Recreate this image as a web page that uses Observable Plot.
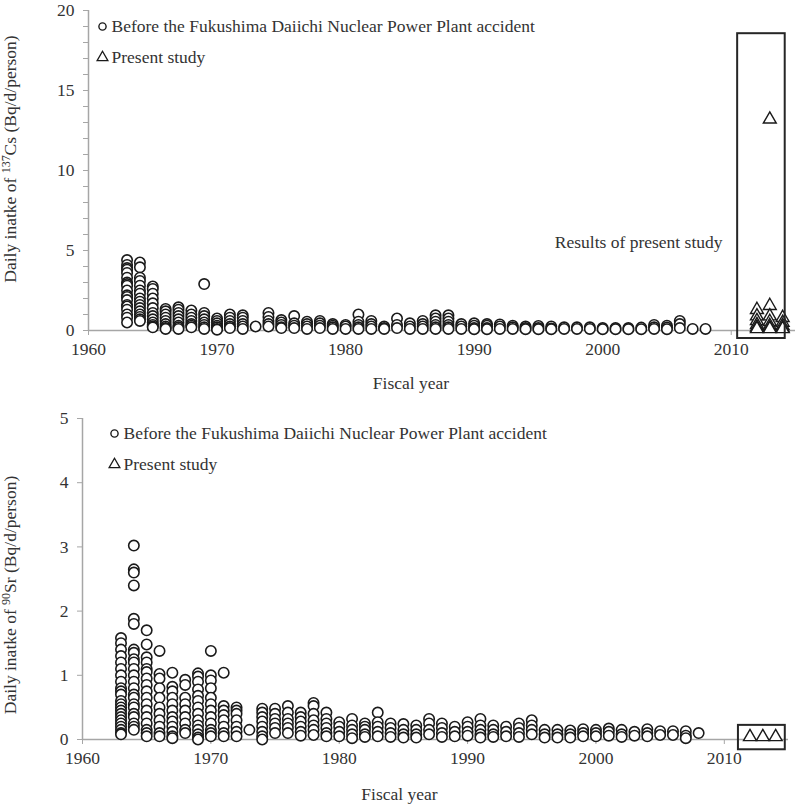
<!DOCTYPE html>
<html>
<head>
<meta charset="utf-8">
<script src="https://cdn.jsdelivr.net/npm/d3@7"></script>
<script src="https://cdn.jsdelivr.net/npm/@observablehq/plot@0.6"></script>
<style>
  body { margin: 0; background: #fff; }
  #chart svg { display: block; }
</style>
</head>
<body>
<div id="chart"></div>
<script>
// ---------- Data ----------
const years = [1963,1964,1965,1966,1967,1968,1969,1970,1971,1972,1973,1974,1975,1976,1977,1978,1979,1980,1981,1982,1983,1984,1985,1986,1987,1988,1989,1990,1991,1992,1993,1994,1995,1996,1997,1998,1999,2000,2001,2002,2003,2004,2005,2006,2007,2008];

// 137Cs daily intake before the accident (Bq/d/person), one list per fiscal year
const csValues = [
  [4.4,4.1,3.9,3.8,3.6,3.3,3.0,2.9,2.8,2.5,2.2,2.1,1.9,1.6,1.5,1.3,1.0,0.8,0.5],
  [4.25,3.95,3.3,3.1,2.8,2.5,2.3,2.0,1.8,1.6,1.4,1.2,1.0,0.85,0.7,0.6],
  [2.75,2.6,2.3,2.0,1.7,1.4,1.1,0.9,0.7,0.5,0.35,0.25,0.2],
  [1.35,1.2,1.0,0.8,0.6,0.4,0.25,0.15,0.1],
  [1.45,1.3,1.1,0.9,0.7,0.5,0.3,0.2,0.1],
  [1.25,1.0,0.8,0.6,0.4,0.3,0.2],
  [2.9,1.1,0.9,0.7,0.5,0.35,0.2,0.1],
  [0.75,0.6,0.45,0.3,0.2,0.1,0.05],
  [1.0,0.8,0.6,0.4,0.25,0.15],
  [0.95,0.8,0.6,0.4,0.25,0.1],
  [0.25],
  [1.1,0.85,0.6,0.4,0.25],
  [0.65,0.5,0.35,0.2,0.15],
  [0.9,0.45,0.3,0.15],
  [0.55,0.4,0.25,0.1],
  [0.6,0.45,0.3,0.15],
  [0.4,0.3,0.2,0.1],
  [0.35,0.25,0.1],
  [1.0,0.55,0.35,0.2,0.1],
  [0.6,0.4,0.25,0.1],
  [0.25,0.15,0.1],
  [0.75,0.35,0.15],
  [0.45,0.25,0.1],
  [0.6,0.4,0.25,0.1],
  [0.95,0.75,0.55,0.35,0.2,0.1],
  [0.95,0.75,0.55,0.35,0.2,0.1],
  [0.4,0.25,0.1],
  [0.45,0.3,0.15,0.08],
  [0.4,0.3,0.15,0.08],
  [0.38,0.25,0.1],
  [0.3,0.2,0.1],
  [0.25,0.15,0.08],
  [0.28,0.15,0.08],
  [0.25,0.12,0.08],
  [0.2,0.1],
  [0.2,0.1],
  [0.2,0.1],
  [0.15,0.08],
  [0.15,0.08],
  [0.15,0.08],
  [0.18,0.08],
  [0.35,0.2,0.1],
  [0.3,0.18,0.08],
  [0.6,0.4,0.15],
  [0.1],
  [0.1]
];

// 90Sr daily intake before the accident (Bq/d/person), one list per fiscal year
const srValues = [
  [1.58,1.5,1.4,1.3,1.2,1.1,1.0,0.9,0.8,0.75,0.7,0.6,0.55,0.5,0.45,0.4,0.35,0.3,0.25,0.2,0.15,0.1,0.08],
  [3.02,2.65,2.6,2.4,1.88,1.8,1.4,1.35,1.25,1.2,1.1,1.0,0.9,0.8,0.7,0.65,0.55,0.5,0.4,0.35,0.25,0.2,0.15],
  [1.7,1.48,1.28,1.2,1.1,1.05,0.95,0.85,0.75,0.65,0.55,0.45,0.35,0.25,0.15,0.1,0.05],
  [1.38,1.02,0.95,0.8,0.65,0.5,0.4,0.3,0.2,0.1,0.05],
  [1.04,0.82,0.75,0.65,0.55,0.45,0.35,0.28,0.2,0.12,0.05,0.02],
  [0.93,0.85,0.65,0.55,0.45,0.35,0.25,0.15,0.1],
  [1.03,0.98,0.9,0.78,0.68,0.6,0.5,0.4,0.3,0.22,0.15,0.08,0.03,0.0],
  [1.38,1.0,0.92,0.8,0.65,0.55,0.45,0.35,0.25,0.15,0.1,0.05],
  [1.04,0.52,0.45,0.38,0.3,0.2,0.1,0.05],
  [0.5,0.45,0.4,0.3,0.2,0.12,0.05],
  [0.15],
  [0.48,0.42,0.35,0.28,0.2,0.12,0.05,0.0],
  [0.48,0.4,0.32,0.25,0.18,0.1],
  [0.52,0.42,0.32,0.25,0.18,0.1],
  [0.42,0.35,0.28,0.2,0.12,0.06],
  [0.57,0.52,0.4,0.3,0.22,0.15,0.07],
  [0.42,0.32,0.25,0.18,0.1,0.05],
  [0.27,0.2,0.12,0.05],
  [0.32,0.22,0.15,0.08,0.02],
  [0.25,0.2,0.15,0.08,0.04],
  [0.42,0.27,0.2,0.12,0.05],
  [0.25,0.18,0.1,0.04],
  [0.24,0.15,0.08,0.03],
  [0.22,0.15,0.08,0.03],
  [0.32,0.25,0.15,0.08],
  [0.25,0.18,0.1,0.04],
  [0.2,0.12,0.05],
  [0.27,0.2,0.12,0.06],
  [0.32,0.22,0.15,0.08,0.03],
  [0.22,0.15,0.08,0.04],
  [0.2,0.12,0.05],
  [0.25,0.18,0.1,0.04],
  [0.3,0.22,0.15,0.08],
  [0.15,0.08,0.03],
  [0.15,0.08,0.03],
  [0.14,0.08,0.03],
  [0.16,0.1,0.05],
  [0.15,0.1,0.05],
  [0.17,0.12,0.06],
  [0.15,0.08,0.04],
  [0.12,0.06],
  [0.16,0.1,0.05],
  [0.13,0.07],
  [0.13,0.07],
  [0.13,0.06,0.02],
  [0.1]
];

// Present study
const studyYears = [2012, 2013, 2014];
const csStudy = [
  [1.3,0.9,0.6,0.35,0.2,0.1],
  [13.2,1.55,0.9,0.55,0.3,0.15,0.1],
  [0.8,0.5,0.3,0.15,0.1]
];
const srStudy = [[0.04],[0.04],[0.04]];

// Boxes around the present-study results (data units)
const csBox = [{x1: 2010.5, x2: 2014.2, y1: -0.5, y2: 18.55}];
const srBox = [{x1: 2011.1, x2: 2014.75, y1: -0.16, y2: 0.22}];

// Labels
const legendBefore = "Before the Fukushima Daiichi Nuclear Power Plant accident";
const legendStudy = "Present study";
const xTitle = "Fiscal year";
const annotation = "Results of present study";
const xTicks = [1960, 1970, 1980, 1990, 2000, 2010];

// ---------- Helpers ----------
const flat = (ys, vals) => ys.flatMap((yr, i) => vals[i].map(v => ({year: yr, value: v})));
const csBefore = flat(years, csValues);
const srBefore = flat(years, srValues);
const csNow = flat(studyYears, csStudy);
const srNow = flat(studyYears, srStudy);

const FONT = "'Liberation Serif', 'Times New Roman', serif";
const FS = 17.5;
const AXIS = "#a6a6a6";
const TEXT = "#333333";
const INK = "#1a1a1a";

function panel(cfg) {
  const svg = Plot.plot({
    width: 795,
    height: cfg.height,
    marginLeft: cfg.ml,
    marginRight: cfg.mr,
    marginTop: cfg.mt,
    marginBottom: cfg.mb,
    style: {fontFamily: FONT, fontSize: FS + "px", color: TEXT, background: "white", overflow: "visible"},
    x: {domain: [1960, 2015], label: null},
    y: {domain: cfg.ydomain, label: null},
    marks: [
      Plot.ruleY([0], {stroke: AXIS, strokeWidth: 1.5}),
      Plot.ruleX([1960], {y1: cfg.ydomain[0], y2: cfg.ydomain[1], stroke: AXIS, strokeWidth: 1.5}),
      Plot.axisX({ticks: xTicks, tickFormat: d => String(d), tickSize: 5, tickPadding: 7, stroke: AXIS, fill: TEXT, label: null, fontSize: FS, fontFamily: FONT}),
      Plot.axisY({ticks: cfg.yticks, tickFormat: cfg.yfmt, tickSize: 5, tickPadding: 9, stroke: AXIS, fill: TEXT, label: null, fontSize: FS, fontFamily: FONT}),
      Plot.dot(cfg.before, {x: "year", y: "value", r: 5.2, symbol: "circle", fill: "white", stroke: INK, strokeWidth: 1.6}),
      Plot.dot(cfg.now, {x: "year", y: "value", r: 4.8, symbol: "triangle", fill: "white", stroke: INK, strokeWidth: 1.4}),
      Plot.rect(cfg.box, {x1: "x1", x2: "x2", y1: "y1", y2: "y2", fill: "none", stroke: "#262626", strokeWidth: 2}),
      // legend
      Plot.dot([legendBefore], {frameAnchor: "top-left", dx: cfg.lgx, dy: cfg.lgy1, r: 3.6, symbol: "circle", fill: "white", stroke: INK, strokeWidth: 1.4}),
      Plot.text([legendBefore], {frameAnchor: "top-left", dx: cfg.lgx + 9, dy: cfg.lgy1, text: d => d, textAnchor: "start", lineAnchor: "middle", fill: TEXT, fontSize: FS}),
      Plot.dot([legendStudy], {frameAnchor: "top-left", dx: cfg.lgx, dy: cfg.lgy2, r: 4, symbol: "triangle", fill: "white", stroke: INK, strokeWidth: 1.3}),
      Plot.text([legendStudy], {frameAnchor: "top-left", dx: cfg.lgx + 9, dy: cfg.lgy2, text: d => d, textAnchor: "start", lineAnchor: "middle", fill: TEXT, fontSize: FS}),
      // x title
      Plot.text([xTitle], {frameAnchor: "bottom", dx: cfg.xtdx, dy: cfg.xtdy, text: d => d, lineAnchor: "middle", fill: TEXT, fontSize: FS}),
      ...(cfg.annot ? [Plot.text([annotation], {frameAnchor: "right", dx: -73, dy: 72, text: d => d, textAnchor: "end", lineAnchor: "middle", fill: TEXT, fontSize: FS})] : [])
    ]
  });
  // Rotated y-axis title with superscript mass number
  const t = d3.select(svg).append("text")
    .attr("transform", `translate(${cfg.ytx},${cfg.yty}) rotate(-90)`)
    .attr("text-anchor", "middle")
    .attr("fill", TEXT)
    .style("font-family", FONT)
    .style("font-size", FS + "px");
  t.append("tspan").text("Daily inatke of ");
  t.append("tspan").attr("dy", -6).style("font-size", "12px").text(cfg.mass);
  t.append("tspan").attr("dy", 6).text(cfg.element + " (Bq/d/person)");
  return svg;
}

const csPanel = panel({
  height: 400, ml: 88, mr: 0, mt: 10, mb: 70,
  ydomain: [0, 20], yticks: d3.range(0, 21, 1), yfmt: d => (d % 5 === 0 ? String(d) : ""),
  before: csBefore, now: csNow, box: csBox,
  lgx: 14, lgy1: 16, lgy2: 47,
  xtdx: -31, xtdy: 53, annot: true,
  ytx: 16, yty: 159, mass: "137", element: "Cs"
});

const srPanel = panel({
  height: 404, ml: 82, mr: 7, mt: 18, mb: 65,
  ydomain: [0, 5], yticks: d3.range(0, 6, 1), yfmt: d => String(d),
  before: srBefore, now: srNow, box: srBox,
  lgx: 32, lgy1: 15, lgy2: 46,
  xtdx: -36, xtdy: 55, annot: false,
  ytx: 16, yty: 195, mass: "90", element: "Sr"
});

const host = document.getElementById("chart");
host.appendChild(csPanel);
host.appendChild(srPanel);
</script>
</body>
</html>
